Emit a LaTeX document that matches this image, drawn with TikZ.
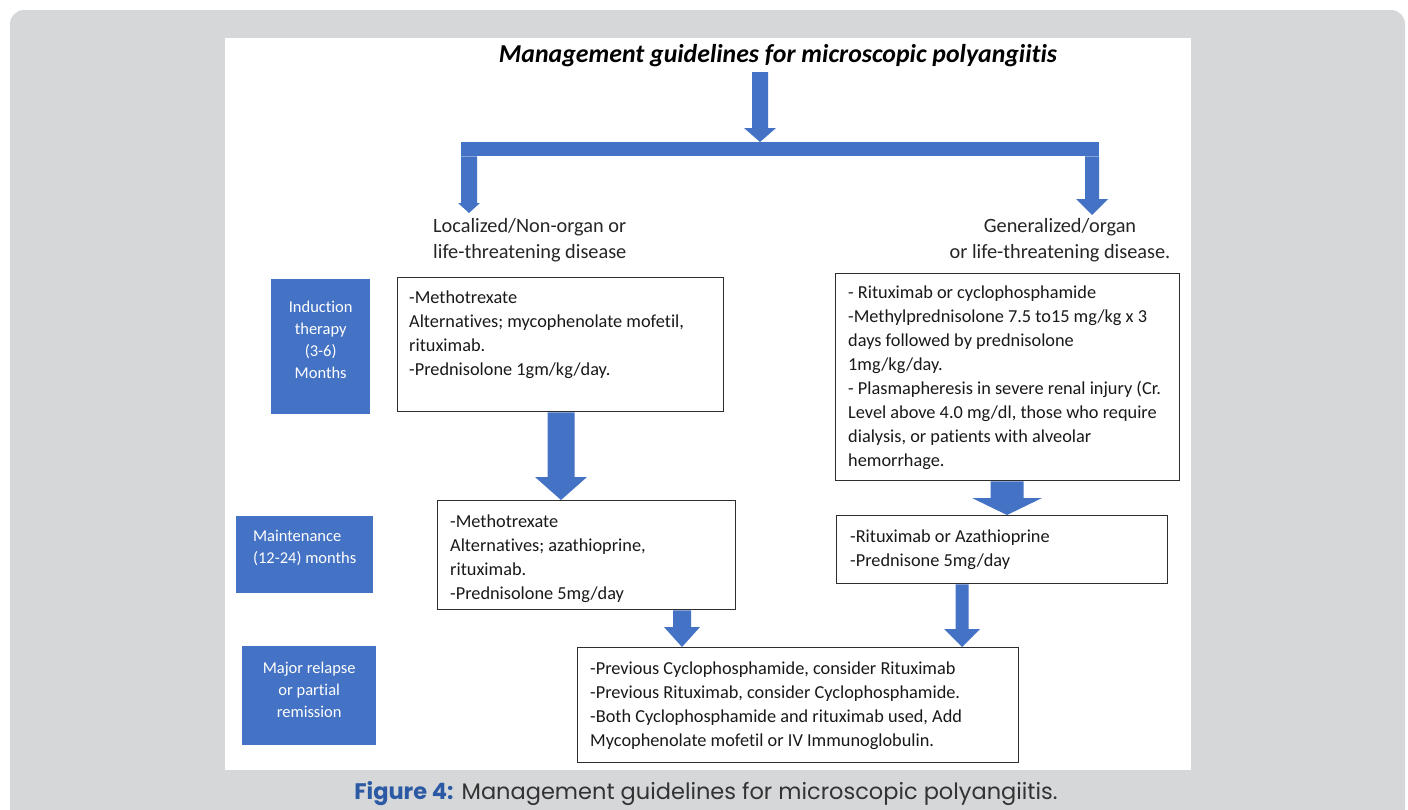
\documentclass[tikz,border=0pt]{standalone}
\usepackage{fontspec}
\setmainfont{Carlito}[Ligatures={NoCommon}]
\newfontfamily\capfont{Poppins}
\usetikzlibrary{calc}
\definecolor{blk}{HTML}{4472C4}
\definecolor{cardgray}{HTML}{D6D7D9}
\definecolor{capblue}{HTML}{2B59A3}
\definecolor{captext}{HTML}{333333}
\definecolor{boxline}{HTML}{2E2E2E}
\newcommand{\vblock}[6]{%
  \fill[blk] let \p1=(#1), \p2=(#2) in
   (#3pt-#4pt,\y1) -- (#3pt+#4pt,\y1) -- (#3pt+#4pt,\y2+#6pt) -- (#3pt+#5pt,\y2+#6pt)
   -- (#3pt,\y2) -- (#3pt-#5pt,\y2+#6pt) -- (#3pt-#4pt,\y2+#6pt) -- cycle;}
\tikzset{
  wbox/.style={draw=boxline, line width=1.3pt, fill=white, anchor=north west, inner sep=0pt},
  bbox/.style={fill=blk, anchor=north west, inner sep=0pt},
  btxt/.style={text=white, align=center, font=\fontsize{16.5}{22}\selectfont, inner sep=0pt},
  btxtl/.style={text=white, align=left, font=\fontsize{16.5}{22}\selectfont, inner sep=0pt},
  wtxt/.style={align=left, anchor=north west, inner sep=0pt, font=\fontsize{18.3}{24}\selectfont, text=black!90},
  ltxt/.style={inner sep=0pt, font=\fontsize{20.3}{26}\selectfont, text=black!85}
}
\begin{document}
\begin{tikzpicture}[x=1pt,y=-1pt]
\useasboundingbox (0,0) rectangle (1408,809);
\fill[white] (0,0) rectangle (1408,809);
\fill[cardgray, rounded corners=14pt] (10,10) rectangle (1405,840);
\fill[white] (225,38) rectangle (1191,770);

% title
\node[inner sep=0pt, font=\fontsize{25.8}{28}\selectfont\bfseries\itshape] (title) at (778,56) {Management guidelines for microscopic polyangiitis};

% top arrow and bar
\coordinate (t0) at (760,72);
\node[fill=blk, anchor=north west, inner sep=0pt, minimum width=638, minimum height=14] (bar) at (461,142) {};
\vblock{t0}{bar.north}{760}{8}{16}{14}
\coordinate (lt) at (469,213);
\coordinate (rt) at (1092,215);
\vblock{bar.south}{lt}{469}{8}{11}{10}
\vblock{bar.south}{rt}{1092}{7}{16}{16}

% branch labels
\node[ltxt, align=left, anchor=north west] (loc) at (433,218) {Localized/Non-organ or\\life-threatening disease};
\node[ltxt, align=center, anchor=north] (gen) at (1060,218) {Generalized/organ\\or life-threatening disease.};

% blue stage boxes
\node[bbox, minimum width=99, minimum height=135] (ind) at (271,279) {};
\node[btxt, yshift=7pt] at (ind.center) {Induction\\therapy\\(3-6)\\Months};
\node[bbox, minimum width=137, minimum height=77] (mnt) at (236,516) {};
\node[btxtl, yshift=7pt] at (mnt.center) {Maintenance\\(12-24) months};
\node[bbox, minimum width=134, minimum height=99] (rel) at (242,646) {};
\node[btxt, yshift=6pt] at (rel.center) {Major relapse\\or partial\\remission};

% white boxes
\node[wbox, minimum width=326, minimum height=134] (b1) at (397,277) {};
\node[wtxt] (t1) at ($(b1.north west)+(12,14)$) {-Methotrexate\\Alternatives; mycophenolate mofetil,\\rituximab.\\-Prednisolone 1gm/kg/day.};

\node[wbox, minimum width=344, minimum height=207] (b2) at (835,273) {};
\node[wtxt] (t2) at ($(b2.north west)+(13,13)$) {- Rituximab or cyclophosphamide\\-Methylprednisolone 7.5 to15 mg/kg x 3\\days followed by prednisolone\\1mg/kg/day.\\- Plasmapheresis in severe renal injury (Cr.\\Level above 4.0 mg/dl, those who require\\dialysis, or patients with alveolar\\hemorrhage.};

\node[wbox, minimum width=298, minimum height=109] (b3) at (437,500) {};
\node[wtxt] (t3) at ($(b3.north west)+(13,15)$) {-Methotrexate\\Alternatives; azathioprine,\\rituximab.\\-Prednisolone 5mg/day};

\node[wbox, minimum width=331, minimum height=68] (b4) at (836,515) {};
\node[wtxt] (t4) at ($(b4.north west)+(14,15)$) {-Rituximab or Azathioprine\\-Prednisone 5mg/day};

\node[wbox, minimum width=441, minimum height=115] (b5) at (577,647) {};
\node[wtxt] (t5) at ($(b5.north west)+(13,15)$) {-Previous Cyclophosphamide, consider Rituximab\\-Previous Rituximab, consider Cyclophosphamide.\\-Both Cyclophosphamide and rituximab used, Add\\Mycophenolate mofetil or IV Immunoglobulin.};

% block arrows between boxes
\vblock{b1.south}{b3.north}{561}{13.5}{26}{23}
\vblock{b2.south}{b4.north}{1007}{16.5}{35}{17}
\vblock{b3.south}{b5.north}{682}{9}{18}{20}
\vblock{b4.south}{b5.north}{962}{6.5}{18}{18}

% caption
\node[inner sep=0pt, font=\capfont\fontsize{22.5}{26}\selectfont] (cap) at (706,794) {\textcolor{capblue}{\bfseries Figure 4:} \textcolor{captext}{Management guidelines for microscopic polyangiitis.}};
\end{tikzpicture}
\end{document}
